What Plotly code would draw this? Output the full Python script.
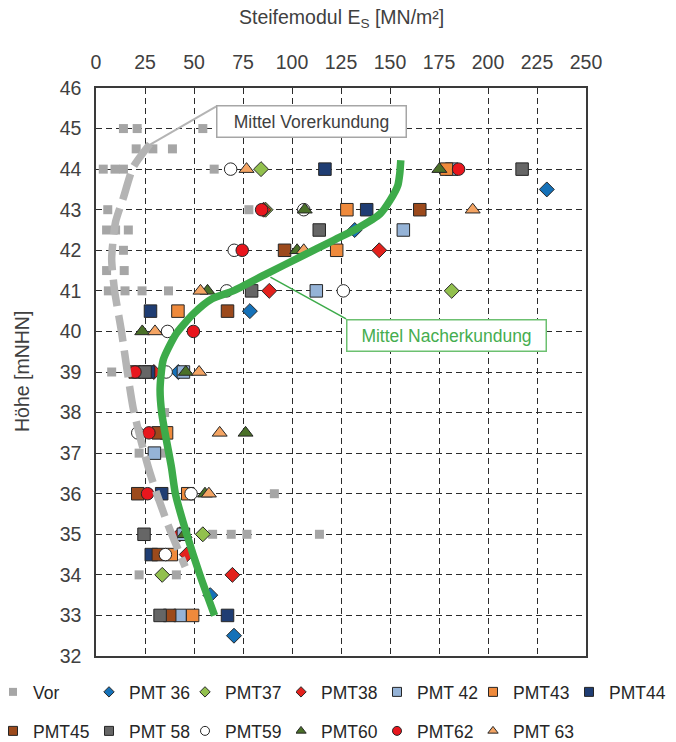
import plotly.graph_objects as go

# ---------------- data (Es in MN/m², height in mNHN) ----------------
vor_es = [14, 21, 54.5, 20.5, 29, 39, 3.7, 9.7, 14, 60.3, 6, 78, 5.4, 10, 16.5, 14, 5.4, 14.4,
          6.3, 14.8, 23.5, 37, 8, 35, 22, 34, 91, 59.5, 69, 77, 114, 22, 41]
vor_h = [45, 45, 45, 44.5, 44.5, 44.5, 44, 44, 44, 44, 43, 43, 42.5, 42.5, 42.5, 42, 41.5, 41.5,
         41, 41, 41, 41, 39, 38, 37, 37, 36, 35, 35, 35, 35, 34, 34]

pmt36_es = [230, 132, 78.5, 42, 58.3, 70.4]
pmt36_h = [43.5, 42.5, 40.5, 39, 33.5, 32.5]
pmt37_es = [84.2, 86.5, 181.5, 54.5, 33.8]
pmt37_h = [44, 43, 41, 35, 34]
pmt38_es = [85.5, 144.5, 88.4, 29.5, 42.8, 46.3, 69.6]
pmt38_h = [43, 42, 41, 39, 35, 34.5, 34]
pmt42_es = [181.5, 156.8, 112.4, 44.6, 29.8, 44.6, 42.9]
pmt42_h = [44, 42.5, 41, 39, 37, 35, 33]
pmt43_es = [178.8, 128, 122.8, 41.8, 36, 46.8, 38.4, 49.3]
pmt43_h = [44, 43, 42, 40.5, 37.5, 36, 34.5, 33]
pmt44_es = [116.8, 138.1, 27.8, 26.8, 33.5, 28.2, 67.1]
pmt44_h = [44, 43, 40.5, 39, 36, 34.5, 33]
pmt45_es = [165.2, 96.2, 67.1, 20, 31.8, 21.3, 31.8, 37.6]
pmt45_h = [43, 42, 40.5, 39, 37.5, 36, 34.5, 33]
pmt58_es = [217.4, 113.9, 79.4, 25, 24.5, 32.7]
pmt58_h = [44, 42.5, 41, 39, 35, 33]
pmt59_es = [68.7, 106, 70.5, 66.7, 126.2, 36.5, 35.8, 21.3, 48.5, 35.4]
pmt59_h = [44, 43, 42, 41, 41, 40, 39, 37.5, 36, 34.5]
pmt60_es = [175.2, 106.5, 102.6, 56.9, 23.6, 45.8, 76.3, 55.6, 45.2]
pmt60_h = [44, 43, 42, 41, 40, 39, 37.5, 36, 35]
pmt62_es = [185, 84.5, 74.6, 49.7, 19.9, 27, 26.3]
pmt62_h = [44, 43, 42, 40, 39, 37.5, 36]
pmt63_es = [76.8, 192.2, 106, 53.3, 30.1, 52.6, 63.1, 57.6]
pmt63_h = [44, 43, 42, 41, 40, 39, 37.5, 36]

vor_mean_es = [27.5, 19, 14, 10, 8, 9.5, 13, 16, 19, 23, 27, 31, 37, 45.5]
vor_mean_h = [44.62, 44.05, 43.3, 42.7, 41.8, 41, 40, 39, 38.1, 37.3, 36.6, 36.0, 35.2, 34.2]
nach_mean_es = [155.5, 155, 154, 150, 145, 133, 121, 104, 87, 70, 59, 50, 41, 34.3, 32.7,
                33.5, 36, 38.5, 40.5, 46.3, 53, 60.5]
nach_mean_h = [44.22, 43.9, 43.6, 43.23, 42.9, 42.53, 42.24, 41.83, 41.42, 41.0, 40.8, 40.45,
               39.95, 39.3, 38.6, 38.0, 37.3, 36.65, 36.0, 35.0, 34.0, 33.0]

x_ticks = [0, 25, 50, 75, 100, 125, 150, 175, 200, 225, 250]
y_ticks = list(range(32, 47))

# ---------------- styles ----------------
EDGE = "#262626"
series = [
    # name, es, h, symbol, color, edge width, size, legend size, legend id
    ("Vor", vor_es, vor_h, "square", "#a6a6a6", 0, 9, 8, "legend"),
    ("PMT 36", pmt36_es, pmt36_h, "diamond", "#1571b8", 1, 11.5, 8, "legend"),
    ("PMT37", pmt37_es, pmt37_h, "diamond", "#92c04e", 1, 11.5, 8, "legend"),
    ("PMT38", pmt38_es, pmt38_h, "diamond", "#e3211c", 1, 11.5, 8, "legend2"),
    ("PMT 42", pmt42_es, pmt42_h, "square", "#95b3d7", 1, 12.5, 9, "legend2"),
    ("PMT43", pmt43_es, pmt43_h, "square", "#ef8a3c", 1, 12.5, 9, "legend2"),
    ("PMT44", pmt44_es, pmt44_h, "square", "#1f3d73", 1, 12.5, 9, "legend3"),
    ("PMT45", pmt45_es, pmt45_h, "square", "#9c4a1c", 1, 12.5, 9, "legend4"),
    ("PMT 58", pmt58_es, pmt58_h, "square", "#666666", 1, 12.5, 9, "legend4"),
    ("PMT59", pmt59_es, pmt59_h, "circle", "#ffffff", 1, 12.5, 9, "legend4"),
    ("PMT60", pmt60_es, pmt60_h, "triangle-up", "#4a7028", 1, 13, 9, "legend5"),
    ("PMT62", pmt62_es, pmt62_h, "circle", "#e8161d", 1, 12.5, 9, "legend5"),
    ("PMT 63", pmt63_es, pmt63_h, "triangle-up", "#f4a463", 1, 13, 9, "legend5"),
]
# legend blocks: (row, first slot index in that row, entry width)
SLOT = 96
legend_blocks = {"legend": (0, 0, SLOT - 30), "legend2": (0, 3, SLOT - 30),
                 "legend3": (0, 6, 55),
                 "legend4": (1, 0, SLOT - 30), "legend5": (1, 3, SLOT - 30)}

FONT = "Liberation Sans, Arial, sans-serif"
TXT = "#404040"
W, H = 668, 734          # page adds an 8px body margin around the figure

fig = go.Figure()

for name, es, h, sym, col, lw, size, lsize, leg in series:
    fig.add_trace(go.Scatter(
        x=es, y=h, mode="markers", name=name, showlegend=False, legendgroup=name,
        marker=dict(symbol=sym, size=size, color=col,
                    line=dict(color=EDGE if lw else col, width=lw)),
        hoverinfo="x+y+name"))

# mean lines (drawn above markers)
fig.add_trace(go.Scatter(
    x=vor_mean_es, y=vor_mean_h, mode="lines", showlegend=False, name="Mittel Vorerkundung",
    line=dict(color="#b4b4b4", width=7.5, dash="27px,9px", shape="spline", smoothing=0.6)))
fig.add_trace(go.Scatter(
    x=nach_mean_es, y=nach_mean_h, mode="lines", showlegend=False, name="Mittel Nacherkundung",
    line=dict(color="#3dab4a", width=7.5, shape="spline", smoothing=0.6)))

# legend-only entries (smaller symbols as in reference legend)
for name, es, h, sym, col, lw, size, lsize, leg in series:
    fig.add_trace(go.Scatter(
        x=[None], y=[None], mode="markers", name=name, legendgroup=name, legend=leg,
        showlegend=True,
        marker=dict(symbol=sym, size=lsize, color=col,
                    line=dict(color=EDGE if lw else col, width=lw))))

# leader lines of the callouts
fig.add_shape(type="line", xref="x", yref="y", x0=26.7, y0=44.58, x1=61.4, y1=45.55,
              line=dict(color="#b4b4b4", width=2))
fig.add_shape(type="line", xref="x", yref="y", x0=89, y0=41.34, x1=127.6, y1=40.31,
              line=dict(color="#3dab4a", width=1.5))

fig.add_annotation(x=109.95, y=45.17, xref="x", yref="y", text="Mittel Vorerkundung",
                   showarrow=False, font=dict(family=FONT, size=17.5, color=TXT),
                   bgcolor="white", bordercolor="#a6a6a6", borderwidth=1.5, borderpad=3,
                   width=182, height=24)
fig.add_annotation(x=178.8, y=39.9, xref="x", yref="y", text="Mittel Nacherkundung",
                   showarrow=False, font=dict(family=FONT, size=17.5, color="#45ad4f"),
                   bgcolor="white", bordercolor="#6cc070", borderwidth=1.5, borderpad=3,
                   width=192, height=24)

# axis titles
fig.add_annotation(x=0.5, y=1, xref="paper", yref="paper", yshift=70, yanchor="middle",
                   text="Steifemodul E<sub>S</sub> [MN/m²]", showarrow=False,
                   font=dict(family=FONT, size=19.5, color=TXT))
fig.add_annotation(x=0, y=0.5, xref="paper", yref="paper", xshift=-74, xanchor="center",
                   yanchor="middle", textangle=-90, text="Höhe [mNHN]", showarrow=False,
                   font=dict(family=FONT, size=19.5, color=TXT))

grid = dict(showgrid=True, gridcolor="#2b2b2b", gridwidth=1.2, griddash="6px,4px",
            showline=True, mirror=True, linecolor="#3a3a3a", linewidth=1.5,
            zeroline=False, ticks="", tickfont=dict(family=FONT, size=19.5, color=TXT))

fig.update_xaxes(side="top", range=[0, 250], tickmode="array", tickvals=x_ticks,
                 ticklabelstandoff=9, **grid)
fig.update_yaxes(range=[32, 46], tickmode="array", tickvals=y_ticks,
                 ticklabelstandoff=9, **grid)

ROW_Y = [684, 723]
legends = {}
for lid, (row, slot, ew) in legend_blocks.items():
    legends[lid] = dict(
        orientation="h", xref="container", yref="container", xanchor="left",
        yanchor="middle", x=(slot * SLOT) / W, y=1 - ROW_Y[row] / H,
        entrywidth=ew, entrywidthmode="pixels", itemwidth=30, indentation=-15,
        font=dict(family=FONT, size=17.5, color="#262626"),
        bgcolor="rgba(0,0,0,0)")

fig.update_layout(
    width=W, height=H,
    margin=dict(l=88, r=90, t=80, b=86, autoexpand=False),
    paper_bgcolor="white", plot_bgcolor="white",
    font=dict(family=FONT, color=TXT),
    **legends,
)

fig.write_html("out.html")
